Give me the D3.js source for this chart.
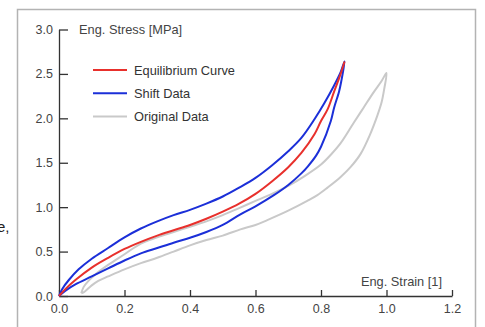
<!DOCTYPE html>
<html>
<head>
<meta charset="utf-8">
<script src="https://cdn.jsdelivr.net/npm/d3@7"></script>
<style>
  body { margin: 0; background: #fff; }
  text { font-family: "Liberation Sans", Arial, sans-serif; }
</style>
</head>
<body>
<div id="chart"></div>
<script>
// strain [1], stress [MPa] pairs
var equilibrium = [
  [0, 0], [0.02, 0.08], [0.05, 0.18], [0.1, 0.32], [0.15, 0.43], [0.2, 0.53],
  [0.25, 0.61], [0.3, 0.68], [0.35, 0.74], [0.4, 0.8], [0.45, 0.87], [0.5, 0.95],
  [0.55, 1.04], [0.6, 1.15], [0.65, 1.29], [0.7, 1.45], [0.74, 1.61], [0.78, 1.82],
  [0.8, 1.97], [0.82, 2.1], [0.84, 2.3], [0.86, 2.5], [0.872, 2.64]
];

var shiftLoading = [
  [0, 0], [0.01, 0.08], [0.03, 0.18], [0.06, 0.3], [0.1, 0.42], [0.15, 0.54],
  [0.2, 0.66], [0.25, 0.76], [0.3, 0.84], [0.35, 0.91], [0.4, 0.97], [0.45, 1.04],
  [0.5, 1.12], [0.55, 1.22], [0.6, 1.33], [0.65, 1.47], [0.7, 1.63], [0.74, 1.78],
  [0.78, 1.99], [0.81, 2.17], [0.84, 2.37], [0.86, 2.52], [0.872, 2.64]
];

var shiftUnloading = [
  [0.872, 2.64], [0.862, 2.42], [0.855, 2.3], [0.84, 2.12], [0.83, 1.97],
  [0.8, 1.68], [0.785, 1.58], [0.76, 1.46], [0.74, 1.38], [0.7, 1.25],
  [0.656, 1.135], [0.6, 1.01], [0.554, 0.92], [0.5, 0.8], [0.45, 0.72],
  [0.4, 0.655], [0.35, 0.6], [0.3, 0.54], [0.25, 0.48], [0.2, 0.4],
  [0.15, 0.31], [0.1, 0.22], [0.05, 0.13], [0.02, 0.06], [0, 0]
];

var originalLoading = [
  [0.068, 0.03], [0.075, 0.1], [0.09, 0.17], [0.11, 0.24], [0.15, 0.35],
  [0.2, 0.47], [0.25, 0.59], [0.3, 0.66], [0.35, 0.72], [0.4, 0.78],
  [0.45, 0.84], [0.5, 0.91], [0.55, 0.99], [0.6, 1.07], [0.65, 1.15],
  [0.7, 1.24], [0.75, 1.35], [0.8, 1.48], [0.83, 1.59], [0.86, 1.72],
  [0.9, 1.95], [0.93, 2.12], [0.96, 2.29], [0.985, 2.42], [1.0, 2.51]
];

var originalUnloading = [
  [1.0, 2.51], [0.993, 2.33], [0.985, 2.18], [0.972, 2.03], [0.95, 1.82],
  [0.921, 1.6], [0.89, 1.45], [0.86, 1.34], [0.82, 1.22], [0.789, 1.135],
  [0.758, 1.07], [0.7, 0.96], [0.636, 0.854], [0.6, 0.8], [0.554, 0.75],
  [0.5, 0.68], [0.45, 0.63], [0.4, 0.57], [0.35, 0.5], [0.3, 0.43],
  [0.25, 0.37], [0.2, 0.3], [0.15, 0.22], [0.12, 0.17], [0.1, 0.12],
  [0.085, 0.07], [0.075, 0.04], [0.068, 0.03]
];

var xTicks = [0, 0.2, 0.4, 0.6, 0.8, 1.0, 1.2];
var yTicks = [0, 0.5, 1.0, 1.5, 2.0, 2.5, 3.0];
var legendLabels = ["Equilibrium Curve", "Shift Data", "Original Data"];
var legendColors = ["#e8302c", "#1b2fd8", "#c9c9c9"];

var svgWidth = 485;
var svgHeight = 327;

var svg = d3.select("#chart")
  .append("svg")
  .attr("width", svgWidth)
  .attr("height", svgHeight);

// outer frame (cut off at the bottom in the original)
svg.append("rect")
  .attr("x", 17.5)
  .attr("y", 9.5)
  .attr("width", 458)
  .attr("height", 340)
  .attr("fill", "none")
  .attr("stroke", "#b3b3b3")
  .attr("stroke-width", 1.5);

// leftover text peeking in at the left edge, as in the original
svg.append("text")
  .attr("x", -3)
  .attr("y", 232)
  .attr("font-size", "15px")
  .attr("fill", "#222")
  .text("e,");

var x = d3.scaleLinear().domain([0, 1.2]).range([59, 452]);
var y = d3.scaleLinear().domain([0, 3]).range([296, 29.5]);

var xAxis = svg.append("g")
  .attr("transform", `translate(0, ${y(0)})`)
  .call(d3.axisBottom(x).tickValues(xTicks).tickFormat(d3.format(".1f"))
    .tickSizeInner(-6).tickSizeOuter(0).tickPadding(8));

var yAxis = svg.append("g")
  .attr("transform", `translate(${x(0)}, 0)`)
  .call(d3.axisLeft(y).tickValues(yTicks).tickFormat(d3.format(".1f"))
    .tickSizeInner(-9).tickSizeOuter(0).tickPadding(6));

[xAxis, yAxis].forEach(g => {
  g.select(".domain").attr("stroke", "#333").attr("stroke-width", 1.3);
  g.selectAll(".tick line").attr("stroke", "#333").attr("stroke-width", 1.3);
  g.selectAll(".tick text")
    .attr("fill", "#444")
    .attr("font-size", "12.5px")
    .attr("font-family", "Liberation Sans, Arial, sans-serif");
});

svg.append("text")
  .attr("x", 79)
  .attr("y", 34)
  .attr("font-size", "12.8px")
  .attr("fill", "#444")
  .text("Eng. Stress [MPa]");

svg.append("text")
  .attr("x", 442)
  .attr("y", 286)
  .attr("text-anchor", "end")
  .attr("font-size", "12.8px")
  .attr("fill", "#444")
  .text("Eng. Strain [1]");

var line = d3.line()
  .x(d => x(d[0]))
  .y(d => y(d[1]))
  .curve(d3.curveCatmullRom);

var curves = [
  { data: originalLoading.concat(originalUnloading.slice(1)), color: legendColors[2] },
  { data: shiftLoading.concat(shiftUnloading.slice(1)), color: legendColors[1] },
  { data: equilibrium, color: legendColors[0] }
];

svg.selectAll(".curve")
  .data(curves)
  .enter()
  .append("path")
  .attr("class", "curve")
  .attr("d", d => line(d.data))
  .attr("fill", "none")
  .attr("stroke", d => d.color)
  .attr("stroke-width", 2)
  .attr("stroke-linejoin", "round");

var legend = svg.selectAll(".legend")
  .data(legendLabels)
  .enter()
  .append("g")
  .attr("class", "legend")
  .attr("transform", (d, i) => `translate(93, ${70 + i * 23.3})`);

legend.append("line")
  .attr("x1", 0)
  .attr("x2", 34)
  .attr("stroke", (d, i) => legendColors[i])
  .attr("stroke-width", 2);

legend.append("text")
  .attr("x", 41)
  .attr("y", 4.5)
  .attr("font-size", "12.8px")
  .attr("fill", "#333")
  .text(d => d);
</script>
</body>
</html>
